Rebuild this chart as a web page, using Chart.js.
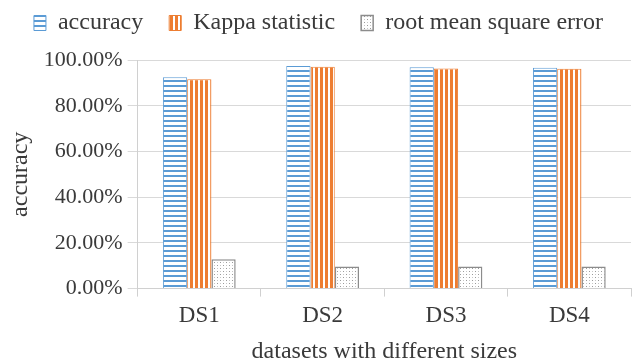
<!DOCTYPE html>
<html>
<head>
<meta charset="utf-8">
<script src="https://cdn.jsdelivr.net/npm/chart.js@4"></script>
<style>
  html, body { margin: 0; padding: 0; background: #fff; }
  #wrap { width: 640px; height: 364px; }
</style>
</head>
<body>
<div id="wrap"><canvas id="Grafik"></canvas></div>
<script>
    var kategori = ['DS1', 'DS2', 'DS3', 'DS4'];
    var accuracy = [92.5, 97.4, 96.8, 96.6];
    var kappa = [91.6, 97.1, 96.3, 96.2];
    var rmse = [12.8, 9.7, 9.7, 9.7];
    var yTicks = [0, 20, 40, 60, 80, 100];

    // pola isian batang
    function garisMendatar() {
        var c = document.createElement('canvas');
        c.width = 5; c.height = 5;
        var g = c.getContext('2d');
        g.fillStyle = '#ffffff';
        g.fillRect(0, 0, 5, 5);
        g.fillStyle = '#5b9bd5';
        g.fillRect(0, 0, 5, 2);
        return g.createPattern(c, 'repeat');
    }

    function garisTegak() {
        var c = document.createElement('canvas');
        c.width = 5; c.height = 5;
        var g = c.getContext('2d');
        g.fillStyle = '#ffffff';
        g.fillRect(0, 0, 5, 5);
        g.fillStyle = '#ed7d31';
        g.fillRect(0, 0, 3, 5);
        return g.createPattern(c, 'repeat');
    }

    function titik() {
        var c = document.createElement('canvas');
        c.width = 6; c.height = 6;
        var g = c.getContext('2d');
        g.fillStyle = '#ffffff';
        g.fillRect(0, 0, 6, 6);
        g.fillStyle = '#9a9a9a';
        g.fillRect(1, 1, 1, 1);
        g.fillRect(4, 4, 1, 1);
        g.fillStyle = '#c8c8c8';
        g.fillRect(4, 1, 1, 1);
        g.fillRect(1, 4, 1, 1);
        return g.createPattern(c, 'repeat');
    }

    var chartdata = {
        labels: kategori,
        datasets: [
            {
                label: 'accuracy',
                backgroundColor: garisMendatar(),
                borderColor: '#5b9bd5',
                borderWidth: 1,
                data: accuracy
            },
            {
                label: 'Kappa statistic',
                backgroundColor: garisTegak(),
                borderColor: '#ed7d31',
                borderWidth: 1,
                data: kappa
            },
            {
                label: 'root mean square error',
                backgroundColor: titik(),
                borderColor: '#8c8c8c',
                borderWidth: 1.5,
                data: rmse
            }
        ]
    };

    var fontSerif = "'Liberation Serif', 'Times New Roman', serif";
    var warnaTeks = '#3a3a3a';

    // tambah jarak di bawah legenda
    var jarakLegenda = {
        id: 'jarakLegenda',
        beforeInit: function (chart) {
            var fitAsli = chart.legend.fit;
            chart.legend.fit = function () {
                fitAsli.call(this);
                this.height += 15;
            };
        }
    };

    new Chart(document.getElementById('Grafik'), {
        type: 'bar',
        data: chartdata,
        plugins: [jarakLegenda],
        options: {
            responsive: true,
            maintainAspectRatio: false,
            animation: false,
            layout: { padding: { top: -15, right: 9, bottom: -2, left: 6 } },
            datasets: {
                bar: { categoryPercentage: 0.59, barPercentage: 1.0 }
            },
            plugins: {
                tooltip: { enabled: false },
                legend: {
                    position: 'top',
                    labels: {
                        font: { family: fontSerif, size: 24 },
                        color: warnaTeks,
                        boxWidth: 12,
                        boxHeight: 15,
                        padding: 26
                    }
                }
            },
            scales: {
                x: {
                    offset: true,
                    grid: {
                        offset: true,
                        drawOnChartArea: false,
                        drawTicks: true,
                        tickLength: 8,
                        color: '#d0d0d0'
                    },
                    border: { color: '#d0d0d0' },
                    ticks: {
                        font: { family: fontSerif, size: 23 },
                        color: warnaTeks,
                        padding: 6
                    },
                    title: {
                        display: true,
                        text: 'datasets with different sizes',
                        font: { family: fontSerif, size: 24 },
                        color: warnaTeks,
                        padding: { top: 1, bottom: 0 }
                    }
                },
                y: {
                    min: 0,
                    max: 100,
                    afterBuildTicks: function (scale) {
                        scale.ticks = yTicks.map(function (v) { return { value: v }; });
                    },
                    grid: {
                        color: '#d9d9d9',
                        tickLength: 10
                    },
                    border: { color: '#d0d0d0' },
                    ticks: {
                        font: { family: fontSerif, size: 22 },
                        color: warnaTeks,
                        padding: 5,
                        callback: function (v) { return v.toFixed(2) + '%'; }
                    },
                    title: {
                        display: true,
                        text: 'accuracy',
                        font: { family: fontSerif, size: 24 },
                        color: warnaTeks,
                        padding: { top: 0, bottom: 4 }
                    }
                }
            }
        }
    });
</script>
</body>
</html>
